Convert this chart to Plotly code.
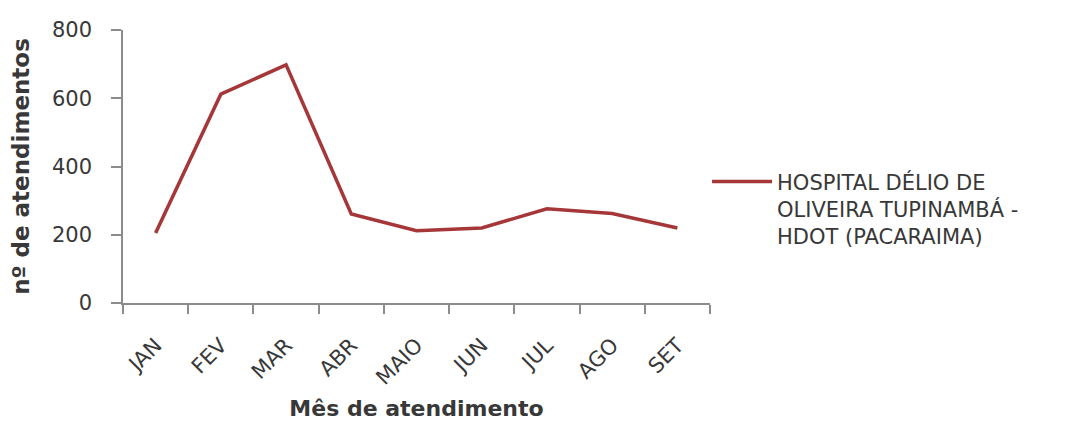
import plotly.graph_objects as go

months = ["JAN", "FEV", "MAR", "ABR", "MAIO", "JUN", "JUL", "AGO", "SET"]
atendimentos = [205, 612, 698, 261, 212, 220, 276, 262, 220]
series_name = "HOSPITAL DÉLIO DE<br>OLIVEIRA TUPINAMBÁ -<br>HDOT (PACARAIMA)"
y_ticks = [0, 200, 400, 600, 800]

FONT = "DejaVu Sans, Verdana, sans-serif"
TXT = "#383838"

fig = go.Figure()
fig.add_trace(go.Scatter(
    x=months, y=atendimentos, mode="lines", name=series_name,
    line=dict(color="#A53739", width=3.5),
))

fig.update_layout(
    width=1067, height=425,
    margin=dict(l=123, r=357, t=30, b=122),
    paper_bgcolor="white", plot_bgcolor="white",
    font=dict(family=FONT, color=TXT, size=20),
    showlegend=True,
    legend=dict(
        x=0.995, xanchor="left", y=0.345, yanchor="middle",
        font=dict(family=FONT, size=21, color=TXT),
        itemwidth=60, tracegroupgap=0, valign="top",
        bgcolor="rgba(0,0,0,0)",
    ),
)

fig.update_xaxes(
    type="category", range=[-0.5, 8.5], automargin=False,
    showline=True, linecolor="#8c8c8c", linewidth=1.5,
    ticks="outside", ticklen=9, tickcolor="#8c8c8c", tickwidth=1.5,
    tickson="boundaries",
    tickangle=-45, tickfont=dict(size=21, color=TXT),
    ticklabelstandoff=20,
    showgrid=False, zeroline=False,
    title=dict(text="<b>Mês de atendimento</b>", font=dict(size=22, color=TXT), standoff=12),
)
fig.update_yaxes(
    range=[0, 800], tickvals=y_ticks, automargin=False,
    showline=True, linecolor="#8c8c8c", linewidth=1.5,
    ticks="outside", ticklen=10, tickcolor="#8c8c8c", tickwidth=1.5,
    ticklabelstandoff=15,
    tickfont=dict(size=21, color=TXT),
    showgrid=False, zeroline=False,
    title=dict(text="<b>nº de atendimentos</b>", font=dict(size=23, color=TXT), standoff=16),
)

fig.write_html("out.html")
